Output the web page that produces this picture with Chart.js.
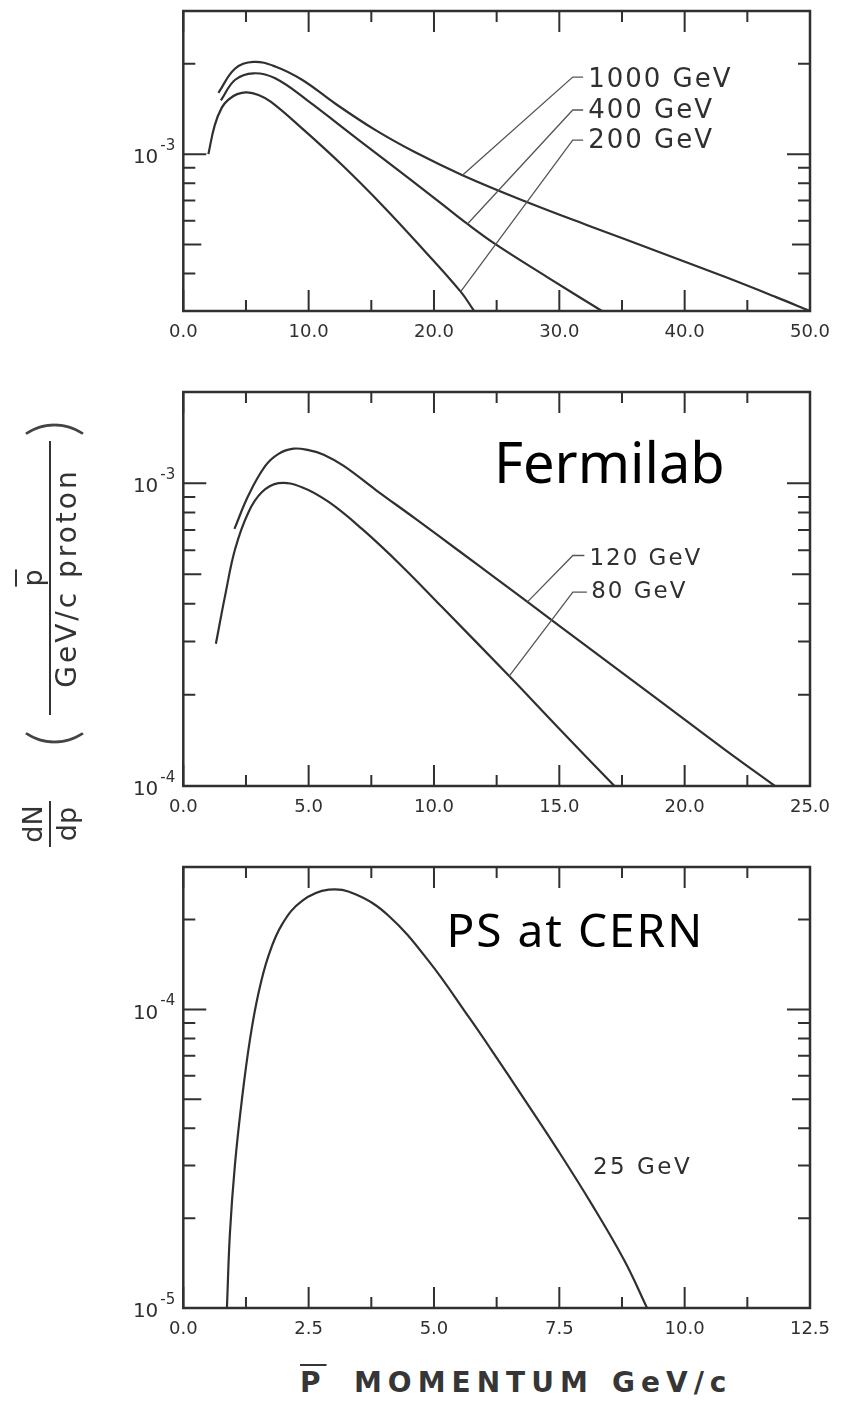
<!DOCTYPE html>
<html>
<head>
<meta charset="utf-8">
<script src="https://cdn.jsdelivr.net/npm/chart.js@4.4.1/dist/chart.umd.min.js"></script>
<style>
  html, body { margin: 0; padding: 0; background: #fff; }
  body { width: 842px; height: 1404px; position: relative; overflow: hidden; font-family: "DejaVu Sans", sans-serif; color: #333; }
  canvas { position: absolute; left: 0; }
  #c1 { top: 0; }
  #c2 { top: 360px; }
  #c3 { top: 840px; }
  #ytitle { position: absolute; left: 50px; top: 637px; width: 448px; height: 70px;
    transform: translate(-50%, -50%) rotate(-90deg); }
  #ytitle > * { position: absolute; top: 0; height: 70px; }
  .frac { display: flex; flex-direction: column; justify-content: center; align-items: center; font-size: 27px; line-height: 28px; }
  .frac .bar { align-self: stretch; height: 2px; background: #333; margin: 2px 0; }
  .paren { font-family: Lato, "Liberation Sans", sans-serif; font-weight: 300; font-size: 66px; line-height: 70px; color: #444; }
  .den { letter-spacing: 3px; font-size: 28px; }
  .over { text-decoration: overline; }
  #xtitle { position: absolute; left: 0; width: 842px; top: 1366px; font-weight: bold; font-size: 28px; color: #363636; white-space: nowrap; }
  #xtitle span { position: absolute; top: 0; letter-spacing: 6px; }
</style>
</head>
<body>
<canvas id="c1" width="842" height="351"></canvas>
<canvas id="c2" width="842" height="466"></canvas>
<canvas id="c3" width="842" height="508"></canvas>

<div id="ytitle">
  <div class="frac" style="left:14px; width:46px;"><span>dN</span><span class="bar"></span><span>dp</span></div>
  <span class="paren" style="left:114px;">(</span>
  <div class="frac" style="left:146px; width:274px;"><span class="over">p</span><span class="bar"></span><span class="den">GeV/c proton</span></div>
  <span class="paren" style="left:424px;">)</span>
</div>

<div id="xtitle">
  <span class="over" style="left:300px;">P</span>
  <span style="left:354px;">MOMENTUM</span>
  <span style="left:612px;">GeV/c</span>
</div>

<script>
// ---- top panel: 200 / 400 / 1000 GeV ----
const p1000X = [2.8, 4.14, 5.6, 7.33, 9.47, 12.14, 15.34, 18.54, 22.27, 27.2, 32.5, 37.9, 43.2, 47.2, 50];
const p1000Y = [1.60e-3, 1.93e-3, 2.03e-3, 1.96e-3, 1.77e-3, 1.472e-3, 1.202e-3, 1.012e-3, 0.851e-3, 0.698e-3, 0.574e-3, 0.473e-3, 0.390e-3, 0.335e-3, 0.30e-3];
const p400X = [3.0, 4.14, 5.6, 7.33, 10.0, 12.67, 15.34, 18.0, 20.67, 22.67, 24.93, 29.0, 33.4];
const p400Y = [1.51e-3, 1.77e-3, 1.86e-3, 1.79e-3, 1.50e-3, 1.23e-3, 1.01e-3, 0.83e-3, 0.68e-3, 0.585e-3, 0.50e-3, 0.39e-3, 0.30e-3];
const p200X = [2.0, 2.5, 3.07, 3.6, 4.3, 5.07, 6.0, 7.0, 9.47, 12.67, 15.87, 19.07, 22.13, 23.2];
const p200Y = [1.0e-3, 1.245e-3, 1.429e-3, 1.52e-3, 1.585e-3, 1.607e-3, 1.574e-3, 1.493e-3, 1.219e-3, 0.92e-3, 0.676e-3, 0.485e-3, 0.348e-3, 0.30e-3];

// ---- middle panel: Fermilab 80 / 120 GeV ----
const p120X = [2.04, 2.6, 3.27, 3.8, 4.4, 5.0, 5.6, 6.4, 7.67, 9.27, 11.0, 12.47, 13.73, 16.27, 18.94, 21.6, 23.6];
const p120Y = [0.706e-3, 0.912e-3, 1.14e-3, 1.25e-3, 1.30e-3, 1.285e-3, 1.242e-3, 1.14e-3, 0.951e-3, 0.762e-3, 0.597e-3, 0.485e-3, 0.4055e-3, 0.2818e-3, 0.1928e-3, 0.1318e-3, 0.10e-3];
const p80X = [1.3, 1.67, 2.07, 2.6, 3.13, 3.8, 4.73, 5.8, 7.13, 8.73, 10.33, 13.0, 14.94, 17.2];
const p80Y = [0.295e-3, 0.426e-3, 0.607e-3, 0.802e-3, 0.933e-3, 1.0e-3, 0.97e-3, 0.867e-3, 0.706e-3, 0.531e-3, 0.389e-3, 0.2307e-3, 0.1563e-3, 0.10e-3];

// ---- bottom panel: PS at CERN 25 GeV ----
const p25X = [0.87, 0.93, 1.03, 1.17, 1.33, 1.5, 1.7, 1.97, 2.37, 2.9, 3.434, 4.1, 4.9, 5.7, 6.13, 6.8, 7.47, 8.13, 8.8, 9.25];
const p25Y = [1.0e-5, 1.78e-5, 3.02e-5, 5.01e-5, 7.94e-5, 1.135e-4, 1.514e-4, 1.928e-4, 2.31e-4, 2.518e-4, 2.43e-4, 2.056e-4, 1.449e-4, 0.94e-4, 0.738e-4, 0.501e-4, 0.338e-4, 0.225e-4, 0.144e-4, 1.0e-5];

// tick positions / labels
const p1XLabels = [0, 10, 20, 30, 40, 50];
const p1XMinor = [5, 15, 25, 35, 45];
const p1YLabels = [1e-3];
const p1YMid = [5e-4];
const p1YMinor = [4e-4, 6e-4, 7e-4, 8e-4, 9e-4, 2e-3];

const p2XLabels = [0, 5, 10, 15, 20, 25];
const p2XMinor = [2.5, 7.5, 12.5, 17.5, 22.5];
const p2YLabels = [1e-4, 1e-3];
const p2YMid = [5e-4];
const p2YMinor = [2e-4, 3e-4, 4e-4, 6e-4, 7e-4, 8e-4, 9e-4];

const p3XLabels = [0, 2.5, 5, 7.5, 10, 12.5];
const p3XMinor = [1.25, 3.75, 6.25, 8.75, 11.25];
const p3YLabels = [1e-5, 1e-4];
const p3YMid = [5e-5];
const p3YMinor = [2e-5, 3e-5, 4e-5, 6e-5, 7e-5, 8e-5, 9e-5, 2e-4];

const INK = "#303030";
const TICK_FONT = { family: "DejaVu Sans", size: 18 };

function series(x, y) {
  return x.map((v, i) => ({ x: v, y: y[i] }));
}

function framePlugin(cfg) {
  return {
    id: "frame",
    afterDatasetsDraw(chart) {
      const { ctx, chartArea: a, scales } = chart;
      const xs = scales.x, ys = scales.y;
      ctx.save();
      ctx.strokeStyle = INK;
      ctx.lineWidth = 2;
      ctx.beginPath();
      const xTick = (v, len) => {
        const px = xs.getPixelForValue(v);
        ctx.moveTo(px, a.bottom); ctx.lineTo(px, a.bottom - len);
        ctx.moveTo(px, a.top); ctx.lineTo(px, a.top + len);
      };
      const yTick = (v, len) => {
        const py = ys.getPixelForValue(v);
        ctx.moveTo(a.left, py); ctx.lineTo(a.left + len, py);
        ctx.moveTo(a.right, py); ctx.lineTo(a.right - len, py);
      };
      cfg.xLabels.forEach(v => xTick(v, 21));
      cfg.xMinor.forEach(v => xTick(v, 11));
      cfg.yLabels.forEach(v => yTick(v, 23));
      cfg.yMid.forEach(v => yTick(v, 18));
      cfg.yMinor.forEach(v => yTick(v, 12));
      ctx.stroke();

      ctx.lineWidth = 2.5;
      ctx.strokeRect(a.left, a.top, a.right - a.left, a.bottom - a.top);

      // power-of-ten labels for the log axis: "10" with a raised exponent
      ctx.fillStyle = INK;
      ctx.textBaseline = "middle";
      ctx.textAlign = "left";
      ys.ticks.forEach(t => {
        const py = ys.getPixelForValue(t.value);
        const exp = "-" + Math.round(-Math.log10(t.value));
        ctx.font = '15px "DejaVu Sans"';
        const w2 = ctx.measureText(exp).width;
        ctx.font = '20px "DejaVu Sans"';
        const w1 = ctx.measureText("10").width;
        const right = a.left - 8;
        ctx.fillText("10", right - w2 - 2 - w1, py + 4);
        ctx.font = '15px "DejaVu Sans"';
        ctx.fillText(exp, right - w2, py - 8);
      });

      // leader lines and text notes
      cfg.notes.forEach(n => {
        if (n.leader) {
          ctx.beginPath();
          n.leader.forEach(([dx, dy], i) => {
            const px = xs.getPixelForValue(dx), py = ys.getPixelForValue(dy);
            if (i) ctx.lineTo(px, py); else ctx.moveTo(px, py);
          });
          ctx.lineWidth = 1.3;
          ctx.strokeStyle = "#555";
          ctx.stroke();
        }
        ctx.font = n.font;
        ctx.fillStyle = n.color || INK;
        ctx.letterSpacing = n.spacing || "0px";
        ctx.textBaseline = n.baseline || "middle";
        ctx.textAlign = "left";
        ctx.fillText(n.text, xs.getPixelForValue(n.at[0]), ys.getPixelForValue(n.at[1]));
      });
      ctx.restore();
    }
  };
}

function makePanel(id, cfg) {
  new Chart(document.getElementById(id), {
    type: "line",
    data: {
      datasets: cfg.series.map(s => ({
        label: s.name,
        data: series(s.x, s.y),
        borderColor: INK,
        borderWidth: 2.2,
        pointRadius: 0,
        fill: false,
        tension: 0.4
      }))
    },
    options: {
      responsive: false,
      animation: false,
      devicePixelRatio: 1,
      layout: { padding: { top: cfg.padTop, right: 32, left: 0, bottom: 0 } },
      plugins: { legend: { display: false }, tooltip: { enabled: false } },
      scales: {
        x: {
          type: "linear",
          min: 0,
          max: cfg.xMax,
          afterBuildTicks: s => { s.ticks = cfg.xLabels.map(v => ({ value: v })); },
          afterFit: s => { s.height = 40; },
          grid: { display: false, drawTicks: false },
          border: { display: false },
          ticks: {
            callback: v => Number(v).toFixed(1),
            padding: 11,
            maxRotation: 0,
            autoSkip: false,
            font: TICK_FONT,
            color: INK
          }
        },
        y: {
          type: "logarithmic",
          min: cfg.yMin,
          max: cfg.yMax,
          afterBuildTicks: s => { s.ticks = cfg.yLabels.map(v => ({ value: v })); },
          afterFit: s => { s.width = 183.3; },
          grid: { display: false, drawTicks: false },
          border: { display: false },
          ticks: { display: false }
        }
      }
    },
    plugins: [framePlugin(cfg)]
  });
}

const GEV_FONT_1 = '26px "DejaVu Sans"';
const GEV_FONT_2 = '23px "DejaVu Sans"';

makePanel("c1", {
  padTop: 11, xMax: 50, yMin: 3e-4, yMax: 3e-3,
  xLabels: p1XLabels, xMinor: p1XMinor, yLabels: p1YLabels, yMid: p1YMid, yMinor: p1YMinor,
  series: [
    { name: "1000 GeV", x: p1000X, y: p1000Y },
    { name: "400 GeV", x: p400X, y: p400Y },
    { name: "200 GeV", x: p200X, y: p200Y }
  ],
  notes: [
    { text: "1000 GeV", at: [32.3, 1.766e-3], font: GEV_FONT_1, spacing: "2px",
      leader: [[22.27, 0.851e-3], [31.07, 1.807e-3], [31.9, 1.807e-3]] },
    { text: "400 GeV", at: [32.3, 1.39e-3], font: GEV_FONT_1, spacing: "2px",
      leader: [[22.67, 0.585e-3], [31.07, 1.403e-3], [31.9, 1.403e-3]] },
    { text: "200 GeV", at: [32.3, 1.10e-3], font: GEV_FONT_1, spacing: "2px",
      leader: [[22.13, 0.348e-3], [31.07, 1.114e-3], [31.9, 1.114e-3]] }
  ]
});

makePanel("c2", {
  padTop: 32, xMax: 25, yMin: 1e-4, yMax: 2e-3,
  xLabels: p2XLabels, xMinor: p2XMinor, yLabels: p2YLabels, yMid: p2YMid, yMinor: p2YMinor,
  series: [
    { name: "120 GeV", x: p120X, y: p120Y },
    { name: "80 GeV", x: p80X, y: p80Y }
  ],
  notes: [
    { text: "120 GeV", at: [16.2, 0.563e-3], font: GEV_FONT_2, spacing: "2px",
      leader: [[13.73, 0.4055e-3], [15.54, 0.577e-3], [16.0, 0.577e-3]] },
    { text: "80 GeV", at: [16.27, 0.4365e-3], font: GEV_FONT_2, spacing: "2px",
      leader: [[13.0, 0.2307e-3], [15.54, 0.4365e-3], [16.1, 0.4365e-3]] },
    { text: "Fermilab", at: [12.39, 1.0e-3], font: '56px "Noto Sans"', color: "#000", baseline: "alphabetic" }
  ]
});

makePanel("c3", {
  padTop: 27, xMax: 12.5, yMin: 1e-5, yMax: 3e-4,
  xLabels: p3XLabels, xMinor: p3XMinor, yLabels: p3YLabels, yMid: p3YMid, yMinor: p3YMinor,
  series: [
    { name: "25 GeV", x: p25X, y: p25Y }
  ],
  notes: [
    { text: "25 GeV", at: [8.17, 2.95e-5], font: GEV_FONT_2, spacing: "2.5px" },
    { text: "PS at CERN", at: [5.25, 1.615e-4], font: '46px "Noto Sans"', color: "#000", spacing: "2px", baseline: "alphabetic" }
  ]
});
</script>
</body>
</html>
